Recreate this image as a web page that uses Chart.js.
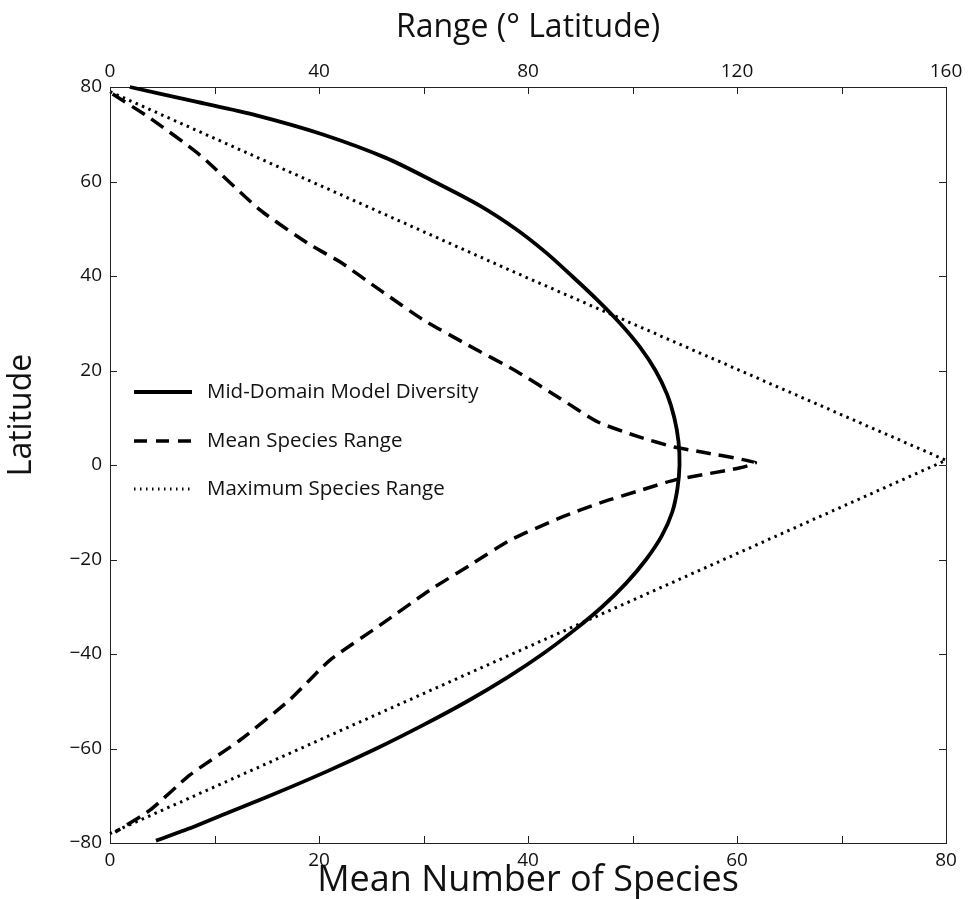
<!DOCTYPE html>
<html>
<head>
<meta charset="utf-8">
<script src="https://cdn.jsdelivr.net/npm/chart.js@4/dist/chart.umd.min.js"></script>
<style>
  html, body { margin: 0; padding: 0; background: #fff; }
  canvas { display: block; }
</style>
</head>
<body>
<canvas id="mdChart" width="969" height="899"></canvas>
<script>
// Mid-domain model: diversity (bottom axis) and ranges (top axis) vs latitude
const latDiversity = [80, 77, 74, 70, 65, 60, 55, 50, 45, 40, 35, 30, 25, 20, 15, 10, 5, 0, -5, -10, -15, -20, -25, -30, -35, -40, -45, -50, -55, -60, -65, -70, -74, -77, -79.5];
const diversity    = [1.9, 8, 14, 20.3, 26.4, 31, 35.3, 38.8, 41.7, 44.2, 46.6, 48.8, 50.7, 52.2, 53.3, 54, 54.4, 54.5, 54.3, 53.8, 52.8, 51.3, 49.4, 47.1, 44.4, 41.4, 38, 34.2, 30, 25.5, 20.6, 15.3, 10.8, 7.5, 4.4];

const latMeanRange = [78.5, 73.4, 65.6, 54, 46.6, 43, 37, 30.7, 25.4, 19.7, 14.2, 9.1, 5.9, 3.8, 2.8, 0.5, -0.6, -3.2, -5.2, -8, -11.2, -15.9, -21.2, -26.5, -33.9, -41.3, -49.7, -58.2, -65.6, -73, -77.7];
const meanRange    = [0.5, 7.7, 17.2, 28.7, 38.3, 44, 51.7, 60, 68.5, 78, 86, 93.4, 101.4, 108, 113, 123.5, 120.6, 108, 102, 93.8, 86.1, 76.6, 68.9, 61.2, 51.7, 42.1, 34.4, 24.9, 15.3, 7.7, 1];

const latMaxRange = [79, 41, 1, -38.5, -78];
const maxRange    = [0, 77, 160, 80, 0];

const speciesTicks = [0, 20, 40, 60, 80];
const rangeTicks = [0, 40, 80, 120, 160];
const latTicks = [-80, -60, -40, -20, 0, 20, 40, 60, 80];

const FONT = "'Open Sans', 'Noto Sans', sans-serif";

function pts(ys, xs) {
  return ys.map((y, i) => ({ x: xs[i], y: y }));
}

function minus(v) {
  return v < 0 ? '\u2212' + Math.abs(v) : String(v);
}

// ticks pointing into the plot, on all four sides
const inwardTicks = {
  id: 'inwardTicks',
  afterDraw(chart) {
    const ctx = chart.ctx;
    const a = chart.chartArea;
    const len = 7;
    ctx.save();
    ctx.strokeStyle = '#222';
    ctx.lineWidth = 1;
    ctx.beginPath();
    ['x', 'x2'].forEach(id => {
      const s = chart.scales[id];
      s.ticks.forEach(t => {
        const px = Math.round(s.getPixelForValue(t.value)) + 0.5;
        if (id === 'x') { ctx.moveTo(px, a.bottom); ctx.lineTo(px, a.bottom - len); }
        else { ctx.moveTo(px, a.top); ctx.lineTo(px, a.top + len); }
      });
    });
    ['y', 'y2'].forEach(id => {
      const s = chart.scales[id];
      s.ticks.forEach(t => {
        const py = Math.round(s.getPixelForValue(t.value)) + 0.5;
        if (id === 'y') { ctx.moveTo(a.left, py); ctx.lineTo(a.left + len, py); }
        else { ctx.moveTo(a.right, py); ctx.lineTo(a.right - len, py); }
      });
    });
    ctx.stroke();
    ctx.restore();
  }
};

// legend inside the plot plus the rotated y title, drawn from the chart's own config
const innerLegend = {
  id: 'innerLegend',
  afterDatasetsDraw(chart) {
    const ctx = chart.ctx;
    const x0 = 134, x1 = 192, textX = 207;
    const rows = [392, 441, 489];
    ctx.save();
    chart.data.datasets.forEach((ds, i) => {
      const y = rows[i];
      ctx.strokeStyle = ds.borderColor;
      ctx.lineWidth = ds.borderWidth;
      ctx.setLineDash(ds.legendDash || []);
      ctx.beginPath();
      ctx.moveTo(x0, y);
      ctx.lineTo(x1, y);
      ctx.stroke();
      ctx.setLineDash([]);
      ctx.fillStyle = '#111';
      ctx.font = '20.5px ' + FONT;
      ctx.textBaseline = 'middle';
      ctx.fillText(ds.label, textX, y);
    });

    ctx.translate(22, 415);
    ctx.rotate(-Math.PI / 2);
    ctx.font = '32px ' + FONT;
    ctx.textAlign = 'center';
    ctx.textBaseline = 'middle';
    ctx.fillStyle = '#111';
    ctx.fillText('Latitude', 0, 0);
    ctx.restore();
  }
};

const ctx = document.getElementById('mdChart').getContext('2d');
new Chart(ctx, {
  type: 'scatter',
  data: {
    datasets: [
      {
        label: 'Mid-Domain Model Diversity',
        data: pts(latDiversity, diversity),
        xAxisID: 'x', yAxisID: 'y',
        borderColor: '#000', borderWidth: 3.8,
        showLine: true, pointRadius: 0, tension: 0.3,
        legendDash: []
      },
      {
        label: 'Mean Species Range',
        data: pts(latMeanRange, meanRange),
        xAxisID: 'x2', yAxisID: 'y',
        borderColor: '#000', borderWidth: 3.5,
        borderDash: [15, 8],
        showLine: true, pointRadius: 0, tension: 0.2,
        legendDash: [13, 9]
      },
      {
        label: 'Maximum Species Range',
        data: pts(latMaxRange, maxRange),
        xAxisID: 'x2', yAxisID: 'y',
        borderColor: '#000', borderWidth: 3,
        borderDash: [2.5, 4.5],
        showLine: true, pointRadius: 0, tension: 0,
        legendDash: [1.5, 4.5]
      }
    ]
  },
  options: {
    responsive: false,
    animation: false,
    clip: false,
    layout: { padding: 0 },
    plugins: { legend: { display: false }, tooltip: { enabled: false } },
    scales: {
      x: {
        type: 'linear', position: 'bottom', min: 0, max: 80,
        afterFit: s => { s.height = 56; },
        afterBuildTicks: s => { s.ticks = [0, 10, 20, 30, 40, 50, 60, 70, 80].map(v => ({ value: v })); },
        grid: { display: false, drawTicks: false },
        border: { display: true, color: '#222', width: 1 },
        ticks: {
          color: '#111', font: { family: FONT, size: 19 }, padding: 6, maxRotation: 0,
          callback: v => speciesTicks.includes(v) ? String(v) : ''
        },
        title: {
          display: true, text: 'Mean Number of Species', color: '#111',
          font: { family: FONT, size: 36 }, padding: { top: 0, bottom: -3 }
        }
      },
      x2: {
        type: 'linear', position: 'top', min: 0, max: 160,
        afterFit: s => { s.height = 87; },
        afterBuildTicks: s => { s.ticks = [0, 20, 40, 60, 80, 100, 120, 140, 160].map(v => ({ value: v })); },
        grid: { display: false, drawTicks: false },
        border: { display: true, color: '#222', width: 1 },
        ticks: {
          color: '#111', font: { family: FONT, size: 19 }, padding: 4, maxRotation: 0,
          callback: v => rangeTicks.includes(v) ? String(v) : ''
        },
        title: {
          display: true, text: 'Range (\u00B0 Latitude)', color: '#111',
          font: { family: FONT, size: 32 }, padding: { top: 9, bottom: 0 }
        }
      },
      y: {
        type: 'linear', position: 'left', min: -80, max: 80,
        afterFit: s => { s.width = 110; },
        afterBuildTicks: s => { s.ticks = latTicks.map(v => ({ value: v })); },
        grid: { display: false, drawTicks: false },
        border: { display: true, color: '#222', width: 1 },
        ticks: {
          color: '#111', font: { family: FONT, size: 19 }, padding: 8,
          callback: v => minus(v)
        }
      },
      y2: {
        type: 'linear', position: 'right', min: -80, max: 80,
        afterFit: s => { s.width = 23; },
        afterBuildTicks: s => { s.ticks = latTicks.map(v => ({ value: v })); },
        grid: { display: false, drawTicks: false },
        border: { display: true, color: '#222', width: 1 },
        ticks: { display: false }
      }
    }
  },
  plugins: [inwardTicks, innerLegend]
});
</script>
</body>
</html>
